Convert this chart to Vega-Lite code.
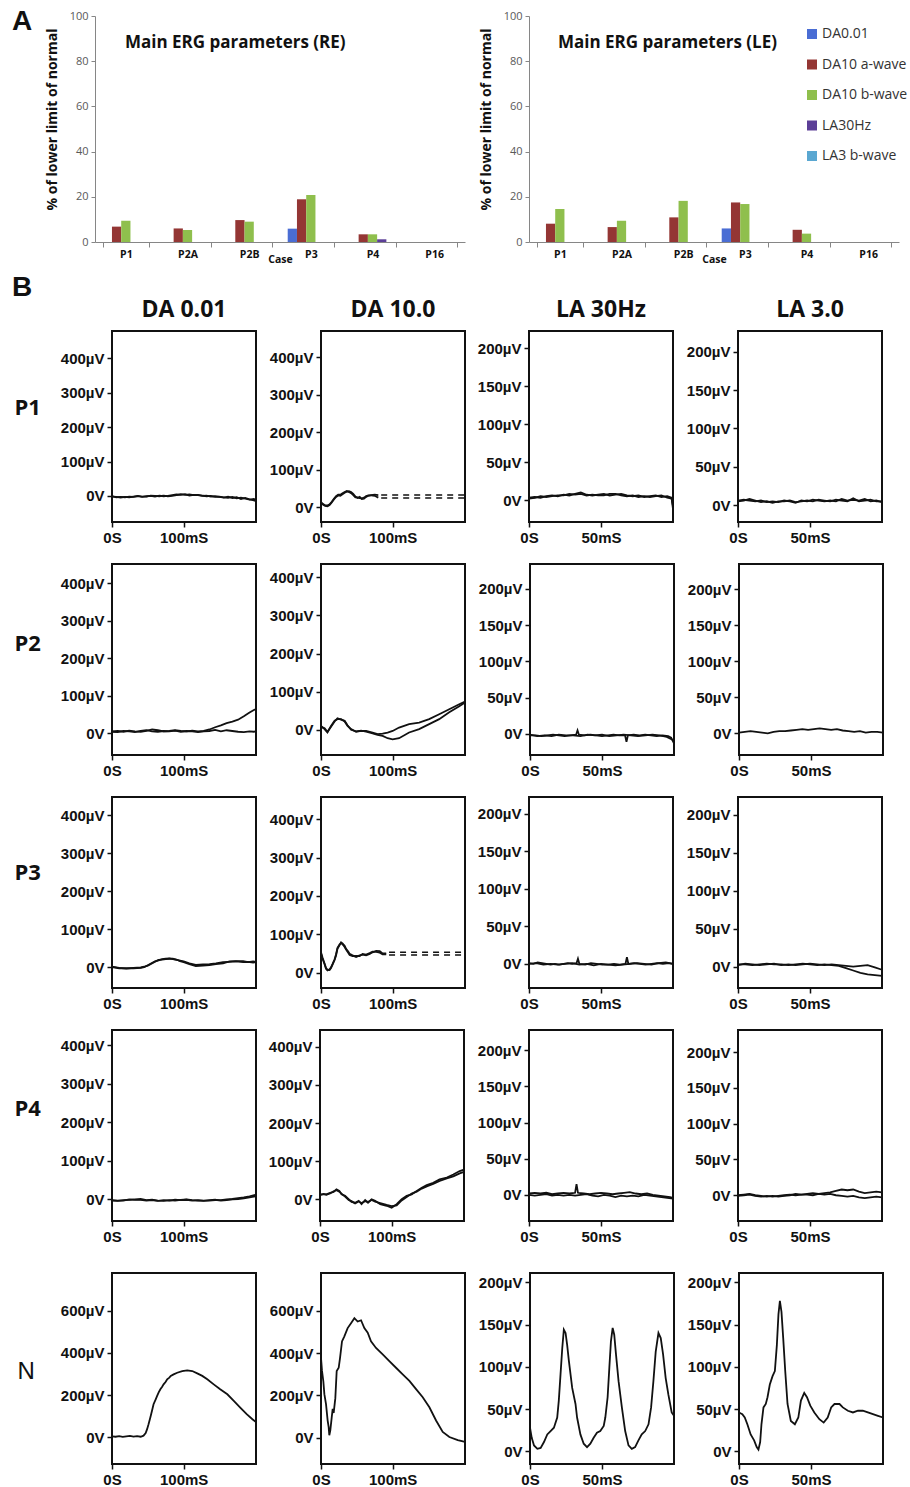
{
"$schema":"https://vega.github.io/schema/vega-lite/v6.json",
"background":"white",
"padding":{"left":12,"top":8,"right":2,"bottom":2},
"config":{
 "view":{"stroke":"#111","strokeWidth":2},
 "axis":{"domain":false,"grid":false,"tickSize":5,"tickColor":"#111","tickWidth":1.5,"labelFont":"Liberation Sans","labelFontWeight":"bold","labelFontSize":15,"labelColor":"#111","labelPadding":3,"labelFlush":false,"labelOverlap":false},
 "axisY":{"minExtent":52,"maxExtent":52},
 "line":{"color":"#111","strokeWidth":1.8},
 "title":{"font":"Open Sans","fontSize":23,"fontWeight":"bold","color":"#111","offset":9,"baseline":"alphabetic"}
},
"datasets":{
 "re":[{"c":"P1","k":"DA10 a-wave","v":6.8},{"c":"P1","k":"DA10 b-wave","v":9.4},{"c":"P2A","k":"DA10 a-wave","v":6.0},{"c":"P2A","k":"DA10 b-wave","v":5.3},{"c":"P2B","k":"DA10 a-wave","v":9.7},{"c":"P2B","k":"DA10 b-wave","v":9.0},{"c":"P3","k":"DA0.01","v":5.9},{"c":"P3","k":"DA10 a-wave","v":18.9},{"c":"P3","k":"DA10 b-wave","v":20.8},{"c":"P4","k":"DA10 a-wave","v":3.4},{"c":"P4","k":"DA10 b-wave","v":3.4},{"c":"P4","k":"LA30Hz","v":1.2}],
 "le":[{"c":"P1","k":"DA10 a-wave","v":8.1},{"c":"P1","k":"DA10 b-wave","v":14.6},{"c":"P2A","k":"DA10 a-wave","v":6.6},{"c":"P2A","k":"DA10 b-wave","v":9.4},{"c":"P2B","k":"DA10 a-wave","v":10.9},{"c":"P2B","k":"DA10 b-wave","v":18.2},{"c":"P3","k":"DA0.01","v":6.0},{"c":"P3","k":"DA10 a-wave","v":17.5},{"c":"P3","k":"DA10 b-wave","v":16.8},{"c":"P4","k":"DA10 a-wave","v":5.4},{"c":"P4","k":"DA10 b-wave","v":3.7}],
 "a1":[{"s":1,"t":0,"v":-2},{"s":1,"t":6,"v":-3},{"s":1,"t":12,"v":-5},{"s":1,"t":18,"v":-3},{"s":1,"t":24,"v":-4},{"s":1,"t":30,"v":-2},{"s":1,"t":36,"v":-1},{"s":1,"t":42,"v":-3},{"s":1,"t":48,"v":-1},{"s":1,"t":54,"v":0},{"s":1,"t":60,"v":-2},{"s":1,"t":66,"v":1},{"s":1,"t":72,"v":-1},{"s":1,"t":78,"v":0},{"s":1,"t":84,"v":2},{"s":1,"t":90,"v":4},{"s":1,"t":96,"v":3},{"s":1,"t":102,"v":5},{"s":1,"t":108,"v":1},{"s":1,"t":114,"v":3},{"s":1,"t":120,"v":2},{"s":1,"t":126,"v":0},{"s":1,"t":132,"v":1},{"s":1,"t":138,"v":-2},{"s":1,"t":144,"v":-1},{"s":1,"t":150,"v":-3},{"s":1,"t":156,"v":-5},{"s":1,"t":162,"v":-2},{"s":1,"t":168,"v":-6},{"s":1,"t":174,"v":-4},{"s":1,"t":180,"v":-9},{"s":1,"t":186,"v":-6},{"s":1,"t":192,"v":-10},{"s":1,"t":198,"v":-13},{"s":1,"t":201,"v":-15},
  {"s":2,"t":0,"v":-1},{"s":2,"t":6,"v":-4},{"s":2,"t":12,"v":-3},{"s":2,"t":18,"v":-4},{"s":2,"t":24,"v":-2},{"s":2,"t":30,"v":-3},{"s":2,"t":36,"v":0},{"s":2,"t":42,"v":-2},{"s":2,"t":48,"v":-2},{"s":2,"t":54,"v":1},{"s":2,"t":60,"v":0},{"s":2,"t":66,"v":-1},{"s":2,"t":72,"v":1},{"s":2,"t":78,"v":-1},{"s":2,"t":84,"v":0},{"s":2,"t":90,"v":2},{"s":2,"t":96,"v":5},{"s":2,"t":102,"v":3},{"s":2,"t":108,"v":4},{"s":2,"t":114,"v":2},{"s":2,"t":120,"v":3},{"s":2,"t":126,"v":1},{"s":2,"t":132,"v":-1},{"s":2,"t":138,"v":0},{"s":2,"t":144,"v":-3},{"s":2,"t":150,"v":-2},{"s":2,"t":156,"v":-4},{"s":2,"t":162,"v":-6},{"s":2,"t":168,"v":-3},{"s":2,"t":174,"v":-7},{"s":2,"t":180,"v":-5},{"s":2,"t":186,"v":-8},{"s":2,"t":192,"v":-11},{"s":2,"t":198,"v":-9},{"s":2,"t":201,"v":-12}],
 "b1":[{"s":1,"t":0,"v":13},{"s":1,"t":3,"v":6},{"s":1,"t":6,"v":3},{"s":1,"t":9,"v":2},{"s":1,"t":12,"v":5},{"s":1,"t":15,"v":12},{"s":1,"t":18,"v":20},{"s":1,"t":21,"v":27},{"s":1,"t":24,"v":31},{"s":1,"t":27,"v":30},{"s":1,"t":30,"v":34},{"s":1,"t":33,"v":38},{"s":1,"t":36,"v":41},{"s":1,"t":39,"v":42},{"s":1,"t":42,"v":40},{"s":1,"t":45,"v":35},{"s":1,"t":48,"v":28},{"s":1,"t":51,"v":24},{"s":1,"t":54,"v":27},{"s":1,"t":57,"v":21},{"s":1,"t":60,"v":22},{"s":1,"t":63,"v":27},{"s":1,"t":66,"v":30},{"s":1,"t":70,"v":32},{"s":1,"t":75,"v":33},{"s":1,"t":80,"v":32},
  {"s":2,"t":0,"v":11},{"s":2,"t":3,"v":8},{"s":2,"t":6,"v":4},{"s":2,"t":9,"v":4},{"s":2,"t":12,"v":7},{"s":2,"t":15,"v":14},{"s":2,"t":18,"v":22},{"s":2,"t":21,"v":29},{"s":2,"t":24,"v":33},{"s":2,"t":27,"v":33},{"s":2,"t":30,"v":37},{"s":2,"t":33,"v":40},{"s":2,"t":36,"v":43},{"s":2,"t":39,"v":40},{"s":2,"t":42,"v":37},{"s":2,"t":45,"v":32},{"s":2,"t":48,"v":26},{"s":2,"t":51,"v":26},{"s":2,"t":54,"v":24},{"s":2,"t":57,"v":23},{"s":2,"t":60,"v":25},{"s":2,"t":63,"v":29},{"s":2,"t":66,"v":31},{"s":2,"t":70,"v":31},{"s":2,"t":75,"v":30},{"s":2,"t":80,"v":25}],
 "b1d":[{"s":1,"t":84,"v":32},{"s":1,"t":201,"v":32},{"s":2,"t":84,"v":24},{"s":2,"t":201,"v":24}],
 "c1":[{"s":1,"t":0,"v":3},{"s":1,"t":4,"v":4},{"s":1,"t":8,"v":3},{"s":1,"t":12,"v":5},{"s":1,"t":16,"v":6},{"s":1,"t":20,"v":5},{"s":1,"t":24,"v":7},{"s":1,"t":28,"v":6},{"s":1,"t":32,"v":8},{"s":1,"t":36,"v":10},{"s":1,"t":40,"v":7},{"s":1,"t":44,"v":6},{"s":1,"t":48,"v":7},{"s":1,"t":52,"v":8},{"s":1,"t":56,"v":6},{"s":1,"t":60,"v":7},{"s":1,"t":64,"v":8},{"s":1,"t":68,"v":6},{"s":1,"t":72,"v":5},{"s":1,"t":76,"v":6},{"s":1,"t":80,"v":4},{"s":1,"t":84,"v":5},{"s":1,"t":88,"v":6},{"s":1,"t":92,"v":4},{"s":1,"t":96,"v":5},{"s":1,"t":99,"v":3},{"s":1,"t":100,"v":-12},
  {"s":2,"t":0,"v":2},{"s":2,"t":4,"v":3},{"s":2,"t":8,"v":5},{"s":2,"t":12,"v":4},{"s":2,"t":16,"v":5},{"s":2,"t":20,"v":6},{"s":2,"t":24,"v":6},{"s":2,"t":28,"v":8},{"s":2,"t":32,"v":7},{"s":2,"t":36,"v":8},{"s":2,"t":40,"v":6},{"s":2,"t":44,"v":7},{"s":2,"t":48,"v":6},{"s":2,"t":52,"v":6},{"s":2,"t":56,"v":8},{"s":2,"t":60,"v":8},{"s":2,"t":64,"v":6},{"s":2,"t":68,"v":5},{"s":2,"t":72,"v":6},{"s":2,"t":76,"v":4},{"s":2,"t":80,"v":5},{"s":2,"t":84,"v":4},{"s":2,"t":88,"v":5},{"s":2,"t":92,"v":6},{"s":2,"t":96,"v":3},{"s":2,"t":99,"v":2},{"s":2,"t":100,"v":-8}],
 "d1":[{"s":1,"t":0,"v":6},{"s":1,"t":4,"v":7},{"s":1,"t":8,"v":6},{"s":1,"t":12,"v":5},{"s":1,"t":16,"v":6},{"s":1,"t":20,"v":4},{"s":1,"t":24,"v":5},{"s":1,"t":28,"v":4},{"s":1,"t":32,"v":6},{"s":1,"t":36,"v":5},{"s":1,"t":40,"v":3},{"s":1,"t":44,"v":6},{"s":1,"t":48,"v":5},{"s":1,"t":52,"v":7},{"s":1,"t":56,"v":6},{"s":1,"t":60,"v":5},{"s":1,"t":64,"v":6},{"s":1,"t":68,"v":5},{"s":1,"t":72,"v":8},{"s":1,"t":76,"v":6},{"s":1,"t":80,"v":7},{"s":1,"t":84,"v":6},{"s":1,"t":88,"v":8},{"s":1,"t":92,"v":5},{"s":1,"t":96,"v":6},{"s":1,"t":100,"v":4},
  {"s":2,"t":0,"v":5},{"s":2,"t":4,"v":6},{"s":2,"t":8,"v":8},{"s":2,"t":12,"v":6},{"s":2,"t":16,"v":4},{"s":2,"t":20,"v":5},{"s":2,"t":24,"v":3},{"s":2,"t":28,"v":5},{"s":2,"t":32,"v":5},{"s":2,"t":36,"v":6},{"s":2,"t":40,"v":4},{"s":2,"t":44,"v":5},{"s":2,"t":48,"v":6},{"s":2,"t":52,"v":5},{"s":2,"t":56,"v":7},{"s":2,"t":60,"v":6},{"s":2,"t":64,"v":5},{"s":2,"t":68,"v":7},{"s":2,"t":72,"v":6},{"s":2,"t":76,"v":5},{"s":2,"t":80,"v":9},{"s":2,"t":84,"v":5},{"s":2,"t":88,"v":6},{"s":2,"t":92,"v":7},{"s":2,"t":96,"v":5},{"s":2,"t":100,"v":5}],
 "a2":[{"s":1,"t":0,"v":5},{"s":1,"t":8,"v":6},{"s":1,"t":16,"v":4},{"s":1,"t":24,"v":7},{"s":1,"t":32,"v":5},{"s":1,"t":40,"v":4},{"s":1,"t":48,"v":6},{"s":1,"t":56,"v":10},{"s":1,"t":64,"v":8},{"s":1,"t":72,"v":5},{"s":1,"t":80,"v":6},{"s":1,"t":88,"v":8},{"s":1,"t":96,"v":6},{"s":1,"t":104,"v":5},{"s":1,"t":112,"v":7},{"s":1,"t":120,"v":5},{"s":1,"t":128,"v":6},{"s":1,"t":136,"v":10},{"s":1,"t":144,"v":16},{"s":1,"t":152,"v":21},{"s":1,"t":160,"v":27},{"s":1,"t":168,"v":31},{"s":1,"t":176,"v":36},{"s":1,"t":184,"v":45},{"s":1,"t":192,"v":55},{"s":1,"t":198,"v":62},{"s":1,"t":201,"v":64},
  {"s":2,"t":0,"v":4},{"s":2,"t":8,"v":3},{"s":2,"t":16,"v":6},{"s":2,"t":24,"v":5},{"s":2,"t":32,"v":3},{"s":2,"t":40,"v":6},{"s":2,"t":48,"v":8},{"s":2,"t":56,"v":5},{"s":2,"t":64,"v":4},{"s":2,"t":72,"v":6},{"s":2,"t":80,"v":5},{"s":2,"t":88,"v":7},{"s":2,"t":96,"v":4},{"s":2,"t":104,"v":6},{"s":2,"t":112,"v":5},{"s":2,"t":120,"v":3},{"s":2,"t":128,"v":5},{"s":2,"t":136,"v":6},{"s":2,"t":144,"v":9},{"s":2,"t":152,"v":5},{"s":2,"t":160,"v":8},{"s":2,"t":168,"v":6},{"s":2,"t":176,"v":4},{"s":2,"t":184,"v":3},{"s":2,"t":192,"v":5},{"s":2,"t":198,"v":4},{"s":2,"t":201,"v":5}],
 "b2":[{"s":1,"t":0,"v":10},{"s":1,"t":5,"v":2},{"s":1,"t":9,"v":-7},{"s":1,"t":14,"v":10},{"s":1,"t":19,"v":24},{"s":1,"t":23,"v":28},{"s":1,"t":28,"v":28},{"s":1,"t":33,"v":22},{"s":1,"t":37,"v":10},{"s":1,"t":42,"v":2},{"s":1,"t":49,"v":-5},{"s":1,"t":56,"v":-3},{"s":1,"t":63,"v":-3},{"s":1,"t":72,"v":-7},{"s":1,"t":79,"v":-11},{"s":1,"t":86,"v":-10},{"s":1,"t":93,"v":-7},{"s":1,"t":100,"v":-3},{"s":1,"t":109,"v":6},{"s":1,"t":123,"v":15},{"s":1,"t":137,"v":19},{"s":1,"t":151,"v":28},{"s":1,"t":165,"v":41},{"s":1,"t":179,"v":54},{"s":1,"t":193,"v":67},{"s":1,"t":201,"v":74},
  {"s":2,"t":0,"v":8},{"s":2,"t":5,"v":4},{"s":2,"t":9,"v":-5},{"s":2,"t":14,"v":8},{"s":2,"t":19,"v":22},{"s":2,"t":23,"v":30},{"s":2,"t":28,"v":27},{"s":2,"t":33,"v":24},{"s":2,"t":37,"v":12},{"s":2,"t":42,"v":0},{"s":2,"t":49,"v":-4},{"s":2,"t":56,"v":-2},{"s":2,"t":63,"v":-5},{"s":2,"t":72,"v":-9},{"s":2,"t":79,"v":-13},{"s":2,"t":86,"v":-16},{"s":2,"t":93,"v":-22},{"s":2,"t":100,"v":-25},{"s":2,"t":109,"v":-22},{"s":2,"t":123,"v":-7},{"s":2,"t":137,"v":2},{"s":2,"t":151,"v":15},{"s":2,"t":165,"v":28},{"s":2,"t":179,"v":46},{"s":2,"t":193,"v":62},{"s":2,"t":201,"v":72}],
 "c2":[{"s":1,"t":0,"v":-2},{"s":1,"t":4,"v":-2},{"s":1,"t":8,"v":-3},{"s":1,"t":12,"v":-2},{"s":1,"t":16,"v":-1},{"s":1,"t":20,"v":-2},{"s":1,"t":24,"v":-3},{"s":1,"t":28,"v":-2},{"s":1,"t":32,"v":-1},{"s":1,"t":33,"v":5},{"s":1,"t":34,"v":-1},{"s":1,"t":38,"v":-2},{"s":1,"t":42,"v":-1},{"s":1,"t":46,"v":-2},{"s":1,"t":50,"v":-3},{"s":1,"t":54,"v":-2},{"s":1,"t":58,"v":-1},{"s":1,"t":62,"v":-2},{"s":1,"t":66,"v":-2},{"s":1,"t":67,"v":-11},{"s":1,"t":68,"v":-2},{"s":1,"t":72,"v":-1},{"s":1,"t":76,"v":-2},{"s":1,"t":80,"v":-1},{"s":1,"t":84,"v":-2},{"s":1,"t":88,"v":-3},{"s":1,"t":92,"v":-2},{"s":1,"t":96,"v":-3},{"s":1,"t":98,"v":-5},{"s":1,"t":100,"v":-13},
  {"s":2,"t":0,"v":-1},{"s":2,"t":5,"v":-3},{"s":2,"t":10,"v":-2},{"s":2,"t":15,"v":-3},{"s":2,"t":20,"v":-1},{"s":2,"t":25,"v":-2},{"s":2,"t":30,"v":-2},{"s":2,"t":35,"v":-3},{"s":2,"t":40,"v":-1},{"s":2,"t":45,"v":-2},{"s":2,"t":50,"v":-1},{"s":2,"t":55,"v":-3},{"s":2,"t":60,"v":-2},{"s":2,"t":65,"v":-1},{"s":2,"t":70,"v":-2},{"s":2,"t":75,"v":-3},{"s":2,"t":80,"v":-2},{"s":2,"t":85,"v":-1},{"s":2,"t":90,"v":-2},{"s":2,"t":95,"v":-4},{"s":2,"t":100,"v":-9}],
 "d2":[{"s":1,"t":0,"v":1},{"s":1,"t":4,"v":2},{"s":1,"t":8,"v":3},{"s":1,"t":12,"v":2},{"s":1,"t":16,"v":1},{"s":1,"t":20,"v":0},{"s":1,"t":24,"v":2},{"s":1,"t":28,"v":3},{"s":1,"t":32,"v":3},{"s":1,"t":36,"v":4},{"s":1,"t":40,"v":5},{"s":1,"t":44,"v":6},{"s":1,"t":48,"v":5},{"s":1,"t":52,"v":6},{"s":1,"t":56,"v":7},{"s":1,"t":60,"v":6},{"s":1,"t":64,"v":5},{"s":1,"t":68,"v":6},{"s":1,"t":72,"v":4},{"s":1,"t":76,"v":3},{"s":1,"t":80,"v":2},{"s":1,"t":84,"v":3},{"s":1,"t":88,"v":1},{"s":1,"t":92,"v":2},{"s":1,"t":96,"v":2},{"s":1,"t":100,"v":1}],
 "a3":[{"s":1,"t":0,"v":0},{"s":1,"t":10,"v":-3},{"s":1,"t":20,"v":-3},{"s":1,"t":30,"v":-3},{"s":1,"t":40,"v":-2},{"s":1,"t":45,"v":0},{"s":1,"t":50,"v":5},{"s":1,"t":55,"v":10},{"s":1,"t":60,"v":15},{"s":1,"t":65,"v":18},{"s":1,"t":70,"v":21},{"s":1,"t":75,"v":22},{"s":1,"t":80,"v":23},{"s":1,"t":85,"v":21},{"s":1,"t":90,"v":19},{"s":1,"t":95,"v":17},{"s":1,"t":100,"v":15},{"s":1,"t":108,"v":10},{"s":1,"t":117,"v":6},{"s":1,"t":127,"v":7},{"s":1,"t":136,"v":8},{"s":1,"t":145,"v":10},{"s":1,"t":155,"v":13},{"s":1,"t":164,"v":14},{"s":1,"t":173,"v":15},{"s":1,"t":183,"v":13},{"s":1,"t":190,"v":14},{"s":1,"t":197,"v":12},{"s":1,"t":201,"v":13},
  {"s":2,"t":0,"v":1},{"s":2,"t":10,"v":-2},{"s":2,"t":20,"v":-4},{"s":2,"t":30,"v":-2},{"s":2,"t":40,"v":-1},{"s":2,"t":45,"v":1},{"s":2,"t":50,"v":4},{"s":2,"t":55,"v":9},{"s":2,"t":60,"v":14},{"s":2,"t":65,"v":19},{"s":2,"t":70,"v":20},{"s":2,"t":75,"v":21},{"s":2,"t":80,"v":22},{"s":2,"t":85,"v":22},{"s":2,"t":90,"v":20},{"s":2,"t":95,"v":16},{"s":2,"t":100,"v":13},{"s":2,"t":108,"v":8},{"s":2,"t":117,"v":3},{"s":2,"t":127,"v":4},{"s":2,"t":136,"v":5},{"s":2,"t":145,"v":8},{"s":2,"t":155,"v":10},{"s":2,"t":164,"v":15},{"s":2,"t":173,"v":16},{"s":2,"t":183,"v":16},{"s":2,"t":190,"v":13},{"s":2,"t":197,"v":15},{"s":2,"t":201,"v":14}],
 "b3":[{"s":1,"t":0,"v":53},{"s":1,"t":2,"v":40},{"s":1,"t":5,"v":24},{"s":1,"t":7,"v":12},{"s":1,"t":9,"v":8},{"s":1,"t":12,"v":7},{"s":1,"t":14,"v":12},{"s":1,"t":16,"v":20},{"s":1,"t":19,"v":33},{"s":1,"t":21,"v":45},{"s":1,"t":23,"v":62},{"s":1,"t":26,"v":72},{"s":1,"t":28,"v":79},{"s":1,"t":30,"v":76},{"s":1,"t":33,"v":70},{"s":1,"t":35,"v":62},{"s":1,"t":38,"v":55},{"s":1,"t":40,"v":49},{"s":1,"t":44,"v":45},{"s":1,"t":49,"v":41},{"s":1,"t":54,"v":45},{"s":1,"t":58,"v":47},{"s":1,"t":63,"v":45},{"s":1,"t":68,"v":49},{"s":1,"t":72,"v":53},{"s":1,"t":77,"v":57},{"s":1,"t":82,"v":56},{"s":1,"t":86,"v":50},{"s":1,"t":91,"v":50},
  {"s":2,"t":0,"v":50},{"s":2,"t":2,"v":37},{"s":2,"t":5,"v":22},{"s":2,"t":7,"v":10},{"s":2,"t":9,"v":6},{"s":2,"t":12,"v":9},{"s":2,"t":14,"v":14},{"s":2,"t":16,"v":22},{"s":2,"t":19,"v":35},{"s":2,"t":21,"v":48},{"s":2,"t":23,"v":65},{"s":2,"t":26,"v":74},{"s":2,"t":28,"v":77},{"s":2,"t":30,"v":74},{"s":2,"t":33,"v":67},{"s":2,"t":35,"v":60},{"s":2,"t":38,"v":52},{"s":2,"t":40,"v":46},{"s":2,"t":44,"v":43},{"s":2,"t":49,"v":44},{"s":2,"t":54,"v":43},{"s":2,"t":58,"v":49},{"s":2,"t":63,"v":47},{"s":2,"t":68,"v":51},{"s":2,"t":72,"v":55},{"s":2,"t":77,"v":54},{"s":2,"t":82,"v":52},{"s":2,"t":86,"v":48},{"s":2,"t":91,"v":48}],
 "b3d":[{"s":1,"t":95,"v":53},{"s":1,"t":201,"v":53},{"s":2,"t":95,"v":46},{"s":2,"t":201,"v":46}],
 "c3":[{"s":1,"t":0,"v":1},{"s":1,"t":3,"v":0},{"s":1,"t":6,"v":2},{"s":1,"t":9,"v":1},{"s":1,"t":12,"v":0},{"s":1,"t":15,"v":-1},{"s":1,"t":18,"v":0},{"s":1,"t":21,"v":-1},{"s":1,"t":24,"v":0},{"s":1,"t":27,"v":1},{"s":1,"t":30,"v":0},{"s":1,"t":33,"v":1},{"s":1,"t":34,"v":7},{"s":1,"t":35,"v":0},{"s":1,"t":39,"v":-1},{"s":1,"t":43,"v":1},{"s":1,"t":47,"v":0},{"s":1,"t":51,"v":-1},{"s":1,"t":55,"v":-1},{"s":1,"t":59,"v":0},{"s":1,"t":63,"v":-1},{"s":1,"t":67,"v":0},{"s":1,"t":68,"v":9},{"s":1,"t":69,"v":0},{"s":1,"t":73,"v":1},{"s":1,"t":77,"v":0},{"s":1,"t":81,"v":-1},{"s":1,"t":85,"v":0},{"s":1,"t":89,"v":1},{"s":1,"t":93,"v":0},{"s":1,"t":97,"v":1},{"s":1,"t":100,"v":0},
  {"s":2,"t":0,"v":0},{"s":2,"t":5,"v":1},{"s":2,"t":10,"v":-1},{"s":2,"t":15,"v":0},{"s":2,"t":20,"v":-1},{"s":2,"t":25,"v":0},{"s":2,"t":30,"v":1},{"s":2,"t":35,"v":-1},{"s":2,"t":40,"v":0},{"s":2,"t":45,"v":-2},{"s":2,"t":50,"v":0},{"s":2,"t":55,"v":-1},{"s":2,"t":60,"v":-2},{"s":2,"t":65,"v":-1},{"s":2,"t":70,"v":0},{"s":2,"t":75,"v":1},{"s":2,"t":80,"v":0},{"s":2,"t":85,"v":-1},{"s":2,"t":90,"v":1},{"s":2,"t":95,"v":2},{"s":2,"t":100,"v":0}],
 "d3":[{"s":1,"t":0,"v":3},{"s":1,"t":5,"v":3},{"s":1,"t":10,"v":2},{"s":1,"t":15,"v":3},{"s":1,"t":20,"v":4},{"s":1,"t":25,"v":3},{"s":1,"t":30,"v":3},{"s":1,"t":35,"v":2},{"s":1,"t":40,"v":3},{"s":1,"t":45,"v":4},{"s":1,"t":50,"v":3},{"s":1,"t":55,"v":2},{"s":1,"t":60,"v":3},{"s":1,"t":65,"v":2},{"s":1,"t":70,"v":1},{"s":1,"t":75,"v":-2},{"s":1,"t":80,"v":-5},{"s":1,"t":85,"v":-8},{"s":1,"t":90,"v":-10},{"s":1,"t":95,"v":-11},{"s":1,"t":100,"v":-12},
  {"s":2,"t":0,"v":2},{"s":2,"t":5,"v":4},{"s":2,"t":10,"v":3},{"s":2,"t":15,"v":2},{"s":2,"t":20,"v":3},{"s":2,"t":25,"v":4},{"s":2,"t":30,"v":2},{"s":2,"t":35,"v":3},{"s":2,"t":40,"v":2},{"s":2,"t":45,"v":3},{"s":2,"t":50,"v":4},{"s":2,"t":55,"v":3},{"s":2,"t":60,"v":2},{"s":2,"t":65,"v":3},{"s":2,"t":70,"v":2},{"s":2,"t":75,"v":1},{"s":2,"t":80,"v":0},{"s":2,"t":85,"v":1},{"s":2,"t":90,"v":2},{"s":2,"t":95,"v":-1},{"s":2,"t":100,"v":-4}],
 "a4":[{"s":1,"t":0,"v":-3},{"s":1,"t":8,"v":-4},{"s":1,"t":16,"v":-2},{"s":1,"t":24,"v":-1},{"s":1,"t":32,"v":0},{"s":1,"t":40,"v":1},{"s":1,"t":48,"v":-2},{"s":1,"t":56,"v":-1},{"s":1,"t":64,"v":-3},{"s":1,"t":72,"v":-4},{"s":1,"t":80,"v":-2},{"s":1,"t":88,"v":-3},{"s":1,"t":96,"v":-1},{"s":1,"t":104,"v":0},{"s":1,"t":112,"v":-2},{"s":1,"t":120,"v":-3},{"s":1,"t":128,"v":-4},{"s":1,"t":136,"v":-2},{"s":1,"t":144,"v":-1},{"s":1,"t":152,"v":-3},{"s":1,"t":160,"v":-2},{"s":1,"t":168,"v":0},{"s":1,"t":176,"v":1},{"s":1,"t":184,"v":3},{"s":1,"t":192,"v":5},{"s":1,"t":200,"v":8},
  {"s":2,"t":0,"v":-2},{"s":2,"t":8,"v":-3},{"s":2,"t":16,"v":-3},{"s":2,"t":24,"v":0},{"s":2,"t":32,"v":-1},{"s":2,"t":40,"v":-1},{"s":2,"t":48,"v":-3},{"s":2,"t":56,"v":-2},{"s":2,"t":64,"v":-4},{"s":2,"t":72,"v":-2},{"s":2,"t":80,"v":-3},{"s":2,"t":88,"v":-1},{"s":2,"t":96,"v":-2},{"s":2,"t":104,"v":-1},{"s":2,"t":112,"v":-3},{"s":2,"t":120,"v":-2},{"s":2,"t":128,"v":-3},{"s":2,"t":136,"v":-3},{"s":2,"t":144,"v":-2},{"s":2,"t":152,"v":-2},{"s":2,"t":160,"v":0},{"s":2,"t":168,"v":1},{"s":2,"t":176,"v":3},{"s":2,"t":184,"v":5},{"s":2,"t":192,"v":8},{"s":2,"t":200,"v":12}],
 "b4":[{"s":1,"t":0,"v":13},{"s":1,"t":5,"v":13},{"s":1,"t":9,"v":13},{"s":1,"t":14,"v":17},{"s":1,"t":19,"v":19},{"s":1,"t":23,"v":26},{"s":1,"t":27,"v":22},{"s":1,"t":30,"v":13},{"s":1,"t":35,"v":9},{"s":1,"t":40,"v":0},{"s":1,"t":44,"v":-7},{"s":1,"t":49,"v":-9},{"s":1,"t":54,"v":-4},{"s":1,"t":58,"v":-13},{"s":1,"t":63,"v":-2},{"s":1,"t":67,"v":-9},{"s":1,"t":72,"v":0},{"s":1,"t":77,"v":-4},{"s":1,"t":84,"v":-13},{"s":1,"t":93,"v":-17},{"s":1,"t":100,"v":-22},{"s":1,"t":107,"v":-13},{"s":1,"t":114,"v":0},{"s":1,"t":121,"v":9},{"s":1,"t":128,"v":13},{"s":1,"t":135,"v":22},{"s":1,"t":142,"v":30},{"s":1,"t":149,"v":37},{"s":1,"t":158,"v":43},{"s":1,"t":167,"v":52},{"s":1,"t":177,"v":57},{"s":1,"t":186,"v":65},{"s":1,"t":195,"v":74},{"s":1,"t":201,"v":78},
  {"s":2,"t":0,"v":11},{"s":2,"t":5,"v":14},{"s":2,"t":9,"v":12},{"s":2,"t":14,"v":15},{"s":2,"t":19,"v":21},{"s":2,"t":23,"v":24},{"s":2,"t":27,"v":20},{"s":2,"t":30,"v":15},{"s":2,"t":35,"v":7},{"s":2,"t":40,"v":-2},{"s":2,"t":44,"v":-5},{"s":2,"t":49,"v":-11},{"s":2,"t":54,"v":-6},{"s":2,"t":58,"v":-10},{"s":2,"t":63,"v":-5},{"s":2,"t":67,"v":-7},{"s":2,"t":72,"v":-2},{"s":2,"t":77,"v":-6},{"s":2,"t":84,"v":-10},{"s":2,"t":93,"v":-15},{"s":2,"t":100,"v":-18},{"s":2,"t":107,"v":-16},{"s":2,"t":114,"v":-3},{"s":2,"t":121,"v":6},{"s":2,"t":128,"v":15},{"s":2,"t":135,"v":20},{"s":2,"t":142,"v":28},{"s":2,"t":149,"v":34},{"s":2,"t":158,"v":40},{"s":2,"t":167,"v":48},{"s":2,"t":177,"v":55},{"s":2,"t":186,"v":60},{"s":2,"t":195,"v":68},{"s":2,"t":201,"v":72}],
 "c4":[{"s":1,"t":0,"v":2},{"s":1,"t":4,"v":3},{"s":1,"t":8,"v":2},{"s":1,"t":12,"v":3},{"s":1,"t":16,"v":1},{"s":1,"t":20,"v":2},{"s":1,"t":24,"v":3},{"s":1,"t":28,"v":2},{"s":1,"t":32,"v":3},{"s":1,"t":33,"v":15},{"s":1,"t":34,"v":3},{"s":1,"t":38,"v":2},{"s":1,"t":42,"v":1},{"s":1,"t":46,"v":2},{"s":1,"t":50,"v":3},{"s":1,"t":54,"v":2},{"s":1,"t":58,"v":1},{"s":1,"t":62,"v":2},{"s":1,"t":66,"v":3},{"s":1,"t":70,"v":4},{"s":1,"t":74,"v":2},{"s":1,"t":78,"v":1},{"s":1,"t":82,"v":2},{"s":1,"t":86,"v":0},{"s":1,"t":90,"v":-1},{"s":1,"t":94,"v":-2},{"s":1,"t":98,"v":-3},{"s":1,"t":100,"v":-4},
  {"s":2,"t":0,"v":0},{"s":2,"t":4,"v":-1},{"s":2,"t":8,"v":0},{"s":2,"t":12,"v":1},{"s":2,"t":16,"v":-1},{"s":2,"t":20,"v":0},{"s":2,"t":24,"v":-1},{"s":2,"t":28,"v":0},{"s":2,"t":32,"v":-1},{"s":2,"t":36,"v":0},{"s":2,"t":40,"v":1},{"s":2,"t":44,"v":-1},{"s":2,"t":48,"v":-2},{"s":2,"t":52,"v":0},{"s":2,"t":56,"v":-1},{"s":2,"t":60,"v":-3},{"s":2,"t":64,"v":-1},{"s":2,"t":68,"v":-2},{"s":2,"t":72,"v":-1},{"s":2,"t":76,"v":-2},{"s":2,"t":80,"v":0},{"s":2,"t":84,"v":-1},{"s":2,"t":88,"v":-2},{"s":2,"t":92,"v":-3},{"s":2,"t":96,"v":-4},{"s":2,"t":100,"v":-5}],
 "d4":[{"s":1,"t":0,"v":0},{"s":1,"t":4,"v":1},{"s":1,"t":8,"v":2},{"s":1,"t":12,"v":0},{"s":1,"t":16,"v":-1},{"s":1,"t":20,"v":-2},{"s":1,"t":24,"v":-1},{"s":1,"t":28,"v":-2},{"s":1,"t":32,"v":-1},{"s":1,"t":36,"v":0},{"s":1,"t":40,"v":2},{"s":1,"t":44,"v":1},{"s":1,"t":48,"v":2},{"s":1,"t":52,"v":3},{"s":1,"t":56,"v":2},{"s":1,"t":60,"v":3},{"s":1,"t":64,"v":4},{"s":1,"t":68,"v":6},{"s":1,"t":72,"v":8},{"s":1,"t":76,"v":7},{"s":1,"t":80,"v":8},{"s":1,"t":84,"v":5},{"s":1,"t":88,"v":3},{"s":1,"t":92,"v":4},{"s":1,"t":96,"v":5},{"s":1,"t":100,"v":4},
  {"s":2,"t":0,"v":-1},{"s":2,"t":4,"v":0},{"s":2,"t":8,"v":1},{"s":2,"t":12,"v":-1},{"s":2,"t":16,"v":-2},{"s":2,"t":20,"v":-1},{"s":2,"t":24,"v":-2},{"s":2,"t":28,"v":-1},{"s":2,"t":32,"v":0},{"s":2,"t":36,"v":1},{"s":2,"t":40,"v":0},{"s":2,"t":44,"v":1},{"s":2,"t":48,"v":1},{"s":2,"t":52,"v":0},{"s":2,"t":56,"v":2},{"s":2,"t":60,"v":1},{"s":2,"t":64,"v":2},{"s":2,"t":68,"v":0},{"s":2,"t":72,"v":-1},{"s":2,"t":76,"v":-2},{"s":2,"t":80,"v":-1},{"s":2,"t":84,"v":-3},{"s":2,"t":88,"v":-4},{"s":2,"t":92,"v":-3},{"s":2,"t":96,"v":-2},{"s":2,"t":100,"v":-3}],
 "a5":[{"s":1,"t":0,"v":5},{"s":1,"t":5,"v":3},{"s":1,"t":10,"v":6},{"s":1,"t":15,"v":2},{"s":1,"t":20,"v":5},{"s":1,"t":25,"v":7},{"s":1,"t":30,"v":4},{"s":1,"t":35,"v":6},{"s":1,"t":40,"v":3},{"s":1,"t":44,"v":8},{"s":1,"t":47,"v":20},{"s":1,"t":49,"v":39},{"s":1,"t":51,"v":62},{"s":1,"t":53.5,"v":94},{"s":1,"t":56,"v":128},{"s":1,"t":58,"v":157},{"s":1,"t":61,"v":180},{"s":1,"t":63,"v":196},{"s":1,"t":65,"v":212},{"s":1,"t":67.5,"v":228},{"s":1,"t":70,"v":240},{"s":1,"t":72,"v":251},{"s":1,"t":75,"v":263},{"s":1,"t":77,"v":275},{"s":1,"t":80,"v":283},{"s":1,"t":82,"v":291},{"s":1,"t":86,"v":298},{"s":1,"t":91,"v":306},{"s":1,"t":98,"v":314},{"s":1,"t":105,"v":317},{"s":1,"t":112,"v":314},{"s":1,"t":119,"v":303},{"s":1,"t":126,"v":291},{"s":1,"t":133,"v":275},{"s":1,"t":142,"v":251},{"s":1,"t":151,"v":228},{"s":1,"t":161,"v":204},{"s":1,"t":170,"v":173},{"s":1,"t":179,"v":141},{"s":1,"t":188,"v":110},{"s":1,"t":196,"v":86},{"s":1,"t":201,"v":72}],
 "b5":[{"s":1,"t":0,"v":378},{"s":1,"t":1.4,"v":316},{"s":1,"t":3.3,"v":266},{"s":1,"t":4.7,"v":206},{"s":1,"t":7,"v":159},{"s":1,"t":9.3,"v":81},{"s":1,"t":10.7,"v":50},{"s":1,"t":11.6,"v":11},{"s":1,"t":13,"v":34},{"s":1,"t":14.9,"v":94},{"s":1,"t":16.3,"v":136},{"s":1,"t":17.7,"v":117},{"s":1,"t":20,"v":187},{"s":1,"t":21.9,"v":316},{"s":1,"t":24.7,"v":331},{"s":1,"t":26.5,"v":375},{"s":1,"t":29.3,"v":456},{"s":1,"t":32.6,"v":480},{"s":1,"t":37.2,"v":519},{"s":1,"t":41.9,"v":542},{"s":1,"t":46.6,"v":566},{"s":1,"t":51.2,"v":550},{"s":1,"t":55.9,"v":556},{"s":1,"t":60.5,"v":519},{"s":1,"t":65.2,"v":497},{"s":1,"t":69.8,"v":456},{"s":1,"t":76.8,"v":425},{"s":1,"t":86.1,"v":394},{"s":1,"t":95.4,"v":362},{"s":1,"t":104.7,"v":331},{"s":1,"t":114,"v":300},{"s":1,"t":123.4,"v":269},{"s":1,"t":132.7,"v":230},{"s":1,"t":142,"v":191},{"s":1,"t":151.3,"v":144},{"s":1,"t":160.6,"v":81},{"s":1,"t":169.9,"v":27},{"s":1,"t":179.2,"v":3},{"s":1,"t":190.9,"v":-12},{"s":1,"t":201,"v":-20}],
 "c5":[{"s":1,"t":0,"v":28},{"s":1,"t":1.2,"v":16},{"s":1,"t":2.8,"v":7},{"s":1,"t":5.1,"v":3},{"s":1,"t":7.4,"v":4},{"s":1,"t":9.7,"v":11},{"s":1,"t":12,"v":20},{"s":1,"t":14.3,"v":24},{"s":1,"t":16.6,"v":28},{"s":1,"t":18.9,"v":40},{"s":1,"t":20,"v":60},{"s":1,"t":21.2,"v":91},{"s":1,"t":22.4,"v":122},{"s":1,"t":23.5,"v":144},{"s":1,"t":24.7,"v":140},{"s":1,"t":25.8,"v":126},{"s":1,"t":27,"v":107},{"s":1,"t":29.3,"v":75},{"s":1,"t":31.6,"v":56},{"s":1,"t":32.7,"v":40},{"s":1,"t":35,"v":20},{"s":1,"t":37.3,"v":9},{"s":1,"t":39.6,"v":5},{"s":1,"t":41.9,"v":9},{"s":1,"t":44.2,"v":16},{"s":1,"t":46.5,"v":22},{"s":1,"t":48.8,"v":24},{"s":1,"t":51.2,"v":30},{"s":1,"t":52.3,"v":40},{"s":1,"t":53.9,"v":64},{"s":1,"t":55.1,"v":99},{"s":1,"t":56.2,"v":130},{"s":1,"t":57.4,"v":146},{"s":1,"t":58.5,"v":138},{"s":1,"t":59.7,"v":115},{"s":1,"t":61.5,"v":83},{"s":1,"t":63.8,"v":52},{"s":1,"t":66.1,"v":24},{"s":1,"t":68.4,"v":7},{"s":1,"t":70.7,"v":3},{"s":1,"t":73,"v":5},{"s":1,"t":75.3,"v":13},{"s":1,"t":77.6,"v":20},{"s":1,"t":80,"v":24},{"s":1,"t":82.3,"v":32},{"s":1,"t":84.1,"v":52},{"s":1,"t":85.7,"v":83},{"s":1,"t":87.3,"v":118},{"s":1,"t":89.2,"v":140},{"s":1,"t":90.8,"v":134},{"s":1,"t":92.4,"v":115},{"s":1,"t":94.2,"v":87},{"s":1,"t":96.1,"v":67},{"s":1,"t":98.4,"v":46},{"s":1,"t":100,"v":42}],
 "d5":[{"s":1,"t":0,"v":46},{"s":1,"t":2.3,"v":44},{"s":1,"t":4,"v":40},{"s":1,"t":5.8,"v":32},{"s":1,"t":8.1,"v":20},{"s":1,"t":10.5,"v":13},{"s":1,"t":12.3,"v":5},{"s":1,"t":13.5,"v":2},{"s":1,"t":14.7,"v":11},{"s":1,"t":15.6,"v":32},{"s":1,"t":17,"v":52},{"s":1,"t":18.6,"v":56},{"s":1,"t":19.8,"v":64},{"s":1,"t":21.4,"v":79},{"s":1,"t":23.3,"v":89},{"s":1,"t":24.9,"v":95},{"s":1,"t":26.3,"v":126},{"s":1,"t":27.4,"v":162},{"s":1,"t":28.4,"v":178},{"s":1,"t":29.5,"v":165},{"s":1,"t":30.7,"v":134},{"s":1,"t":32.1,"v":95},{"s":1,"t":33.7,"v":56},{"s":1,"t":36,"v":36},{"s":1,"t":38.8,"v":32},{"s":1,"t":41.2,"v":40},{"s":1,"t":43,"v":60},{"s":1,"t":45.3,"v":69},{"s":1,"t":47.2,"v":64},{"s":1,"t":49.5,"v":54},{"s":1,"t":52.3,"v":46},{"s":1,"t":55.8,"v":38},{"s":1,"t":58.8,"v":34},{"s":1,"t":61.6,"v":40},{"s":1,"t":64,"v":52},{"s":1,"t":66.3,"v":56},{"s":1,"t":69.8,"v":56},{"s":1,"t":72.1,"v":52},{"s":1,"t":75.6,"v":48},{"s":1,"t":79.1,"v":46},{"s":1,"t":82.6,"v":48},{"s":1,"t":86,"v":48},{"s":1,"t":89.5,"v":46},{"s":1,"t":93,"v":44},{"s":1,"t":96.5,"v":42},{"s":1,"t":100,"v":40}]
},
"vconcat":[
 {"vconcat":[
  {"title":{"text":"A","anchor":"start","frame":"group","dx":-100,"dy":26,"offset":0,"font":"Liberation Sans","fontSize":28,"fontWeight":"bold"},
   "spacing":-3,
   "resolve":{"scale":{"color":"independent","xOffset":"independent"},"legend":{"color":"independent"}},
   "hconcat":[
    {"width":353,"height":226,"view":{"stroke":null},"data":{"name":"re"},"mark":{"type":"bar"},
     "title":{"text":"Main ERG parameters (RE)","anchor":"start","frame":"group","dx":13,"dy":42,"offset":0,"fontSize":17,"fontWeight":"bold"},
     "encoding":{
      "x":{"field":"c","type":"nominal","title":"Case","scale":{"domain":["P1","P2A","P2B","P3","P4","P16"],"range":[-17,353],"paddingInner":0.25,"paddingOuter":0.125},
           "axis":{"domain":true,"domainColor":"#868686","domainWidth":1,"tickBand":"extent","tickColor":"#868686","tickWidth":1,"tickSize":5,"labelAngle":0,"labelFont":"Open Sans","labelFontSize":10.5,"labelPadding":2,"titleFont":"Open Sans","titleFontSize":10.5,"titleFontWeight":"bold","titleColor":"#111","titleY":17,"titleBaseline":"middle"}},
      "xOffset":{"field":"k","type":"nominal","scale":{"domain":["DA0.01","DA10 a-wave","DA10 b-wave","LA30Hz","LA3 b-wave"],"paddingInner":0,"paddingOuter":0}},
      "y":{"field":"v","type":"quantitative","title":"% of lower limit of normal","scale":{"domain":[0,100],"nice":false},
           "axis":{"offset":17,"values":[0,20,40,60,80,100],"domain":true,"domainColor":"#868686","domainWidth":1,"tickColor":"#868686","tickWidth":1,"tickSize":4,"labelFont":"Open Sans","labelFontWeight":"normal","labelFontSize":11,"labelColor":"#595959","labelPadding":3,"minExtent":0,"maxExtent":200,"titleFont":"Open Sans","titleFontSize":14,"titleFontWeight":"bold","titleColor":"#111","titlePadding":10,"titleY":103}},
      "color":{"field":"k","type":"nominal","scale":{"domain":["DA0.01","DA10 a-wave","DA10 b-wave","LA30Hz","LA3 b-wave"],"range":["#4a6dd4","#943634","#8fbf4d","#5c3f97","#5aa7d1"]},"legend":null}
     }},
    {"width":370,"height":226,"view":{"stroke":null},"data":{"name":"le"},"mark":{"type":"bar"},
     "title":{"text":"Main ERG parameters (LE)","anchor":"start","frame":"group","dx":29,"dy":42,"offset":0,"fontSize":17,"fontWeight":"bold"},
     "encoding":{
      "x":{"field":"c","type":"nominal","title":"Case","scale":{"domain":["P1","P2A","P2B","P3","P4","P16"],"paddingInner":0.25,"paddingOuter":0.125},
           "axis":{"domain":true,"domainColor":"#868686","domainWidth":1,"tickBand":"extent","tickColor":"#868686","tickWidth":1,"tickSize":5,"labelAngle":0,"labelFont":"Open Sans","labelFontSize":10.5,"labelPadding":2,"titleFont":"Open Sans","titleFontSize":10.5,"titleFontWeight":"bold","titleColor":"#111","titleY":17,"titleBaseline":"middle"}},
      "xOffset":{"field":"k","type":"nominal","scale":{"domain":["DA0.01","DA10 a-wave","DA10 b-wave","LA30Hz","LA3 b-wave"],"paddingInner":0,"paddingOuter":0}},
      "y":{"field":"v","type":"quantitative","title":"% of lower limit of normal","scale":{"domain":[0,100],"nice":false},
           "axis":{"values":[0,20,40,60,80,100],"domain":true,"domainColor":"#868686","domainWidth":1,"tickColor":"#868686","tickWidth":1,"tickSize":4,"labelFont":"Open Sans","labelFontWeight":"normal","labelFontSize":11,"labelColor":"#595959","labelPadding":3,"minExtent":0,"maxExtent":200,"titleFont":"Open Sans","titleFontSize":14,"titleFontWeight":"bold","titleColor":"#111","titlePadding":10,"titleY":103}},
      "color":{"field":"k","type":"nominal","scale":{"domain":["DA0.01","DA10 a-wave","DA10 b-wave","LA30Hz","LA3 b-wave"],"range":["#4a6dd4","#943634","#8fbf4d","#5c3f97","#5aa7d1"]},
           "legend":{"orient":"none","legendX":276,"legendY":11,"title":null,"symbolType":"square","symbolSize":100,"symbolStrokeWidth":0,"labelFont":"Open Sans","labelFontSize":14,"labelColor":"#333","rowPadding":16.5,"labelOffset":3,"labelLimit":200}}
     }}
   ]},
  {"title":{"text":"B","anchor":"start","frame":"group","dx":-100,"dy":4,"offset":0,"font":"Liberation Sans","fontSize":28,"fontWeight":"bold"},
   "spacing":17,
   "vconcat":[
    {"spacing":7,"hconcat":[
     {"width":144,"height":191,"title":{"text":"DA 0.01"},"data":{"name":"a1"},"mark":"line","encoding":{
      "x":{"field":"t","type":"quantitative","title":null,"scale":{"domain":[0,201],"nice":false,"zero":false},"axis":{"values":[0,100],"labelExpr":"datum.value==0?'0S':datum.value+'mS'"}},
      "y":{"field":"v","type":"quantitative","title":"P1","scale":{"domain":[-76,480],"nice":false,"zero":false},"axis":{"values":[0,100,200,300,400],"labelExpr":"datum.value==0?'0V':datum.value+'µV'","titleAngle":0,"titleAlign":"left","titleBaseline":"middle","titleX":-98,"titleY":76,"titleFont":"Open Sans","titleFontSize":22,"titleFontWeight":"bold","titleColor":"#111"}},
      "detail":{"field":"s","type":"nominal"}}},
     {"width":144,"height":191,"title":{"text":"DA 10.0"},
      "encoding":{
       "x":{"field":"t","type":"quantitative","title":null,"scale":{"domain":[0,201],"nice":false,"zero":false},"axis":{"values":[0,100],"labelExpr":"datum.value==0?'0S':datum.value+'mS'"}},
       "y":{"field":"v","type":"quantitative","title":null,"scale":{"domain":[-40,470],"nice":false,"zero":false},"axis":{"values":[0,100,200,300,400],"labelExpr":"datum.value==0?'0V':datum.value+'µV'"}},
       "detail":{"field":"s","type":"nominal"}},
      "layer":[{"data":{"name":"b1"},"mark":"line"},{"data":{"name":"b1d"},"mark":{"type":"line","strokeDash":[6,5],"strokeWidth":1.5}}]},
     {"width":144,"height":191,"title":{"text":"LA 30Hz"},"data":{"name":"c1"},"mark":"line","encoding":{
      "x":{"field":"t","type":"quantitative","title":null,"scale":{"domain":[0,100],"nice":false,"zero":false},"axis":{"values":[0,50],"labelExpr":"datum.value==0?'0S':datum.value+'mS'"}},
      "y":{"field":"v","type":"quantitative","title":null,"scale":{"domain":[-29,223],"nice":false,"zero":false},"axis":{"values":[0,50,100,150,200],"labelExpr":"datum.value==0?'0V':datum.value+'µV'"}},
      "detail":{"field":"s","type":"nominal"}}},
     {"width":144,"height":191,"title":{"text":"LA 3.0"},"data":{"name":"d1"},"mark":"line","encoding":{
      "x":{"field":"t","type":"quantitative","title":null,"scale":{"domain":[0,100],"nice":false,"zero":false},"axis":{"values":[0,50],"labelExpr":"datum.value==0?'0S':datum.value+'mS'"}},
      "y":{"field":"v","type":"quantitative","title":null,"scale":{"domain":[-22,227],"nice":false,"zero":false},"axis":{"values":[0,50,100,150,200],"labelExpr":"datum.value==0?'0V':datum.value+'µV'"}},
      "detail":{"field":"s","type":"nominal"}}}
    ]},
    {"spacing":7,"hconcat":[
     {"width":144,"height":191,"data":{"name":"a2"},"mark":"line","encoding":{
      "x":{"field":"t","type":"quantitative","title":null,"scale":{"domain":[0,201],"nice":false,"zero":false},"axis":{"values":[0,100],"labelExpr":"datum.value==0?'0S':datum.value+'mS'"}},
      "y":{"field":"v","type":"quantitative","title":"P2","scale":{"domain":[-58,451],"nice":false,"zero":false},"axis":{"values":[0,100,200,300,400],"labelExpr":"datum.value==0?'0V':datum.value+'µV'","titleAngle":0,"titleAlign":"left","titleBaseline":"middle","titleX":-98,"titleY":79,"titleFont":"Open Sans","titleFontSize":22,"titleFontWeight":"bold","titleColor":"#111"}},
      "detail":{"field":"s","type":"nominal"}}},
     {"width":144,"height":191,"data":{"name":"b2"},"mark":"line","encoding":{
      "x":{"field":"t","type":"quantitative","title":null,"scale":{"domain":[0,201],"nice":false,"zero":false},"axis":{"values":[0,100],"labelExpr":"datum.value==0?'0S':datum.value+'mS'"}},
      "y":{"field":"v","type":"quantitative","title":null,"scale":{"domain":[-66,435],"nice":false,"zero":false},"axis":{"values":[0,100,200,300,400],"labelExpr":"datum.value==0?'0V':datum.value+'µV'"}},
      "detail":{"field":"s","type":"nominal"}}},
     {"width":144,"height":191,"data":{"name":"c2"},"mark":"line","encoding":{
      "x":{"field":"t","type":"quantitative","title":null,"scale":{"domain":[0,100],"nice":false,"zero":false},"axis":{"values":[0,50],"labelExpr":"datum.value==0?'0S':datum.value+'mS'"}},
      "y":{"field":"v","type":"quantitative","title":null,"scale":{"domain":[-29,234],"nice":false,"zero":false},"axis":{"values":[0,50,100,150,200],"labelExpr":"datum.value==0?'0V':datum.value+'µV'"}},
      "detail":{"field":"s","type":"nominal"}}},
     {"width":144,"height":191,"data":{"name":"d2"},"mark":"line","encoding":{
      "x":{"field":"t","type":"quantitative","title":null,"scale":{"domain":[0,100],"nice":false,"zero":false},"axis":{"values":[0,50],"labelExpr":"datum.value==0?'0S':datum.value+'mS'"}},
      "y":{"field":"v","type":"quantitative","title":null,"scale":{"domain":[-30,235],"nice":false,"zero":false},"axis":{"values":[0,50,100,150,200],"labelExpr":"datum.value==0?'0V':datum.value+'µV'"}},
      "detail":{"field":"s","type":"nominal"}}}
    ]},
    {"spacing":7,"hconcat":[
     {"width":144,"height":191,"data":{"name":"a3"},"mark":"line","encoding":{
      "x":{"field":"t","type":"quantitative","title":null,"scale":{"domain":[0,201],"nice":false,"zero":false},"axis":{"values":[0,100],"labelExpr":"datum.value==0?'0S':datum.value+'mS'"}},
      "y":{"field":"v","type":"quantitative","title":"P3","scale":{"domain":[-55,448],"nice":false,"zero":false},"axis":{"values":[0,100,200,300,400],"labelExpr":"datum.value==0?'0V':datum.value+'µV'","titleAngle":0,"titleAlign":"left","titleBaseline":"middle","titleX":-98,"titleY":75,"titleFont":"Open Sans","titleFontSize":22,"titleFontWeight":"bold","titleColor":"#111"}},
      "detail":{"field":"s","type":"nominal"}}},
     {"width":144,"height":191,
      "encoding":{
       "x":{"field":"t","type":"quantitative","title":null,"scale":{"domain":[0,201],"nice":false,"zero":false},"axis":{"values":[0,100],"labelExpr":"datum.value==0?'0S':datum.value+'mS'"}},
       "y":{"field":"v","type":"quantitative","title":null,"scale":{"domain":[-40,458],"nice":false,"zero":false},"axis":{"values":[0,100,200,300,400],"labelExpr":"datum.value==0?'0V':datum.value+'µV'"}},
       "detail":{"field":"s","type":"nominal"}},
      "layer":[{"data":{"name":"b3"},"mark":"line"},{"data":{"name":"b3d"},"mark":{"type":"line","strokeDash":[6,5],"strokeWidth":1.5}}]},
     {"width":144,"height":191,"data":{"name":"c3"},"mark":"line","encoding":{
      "x":{"field":"t","type":"quantitative","title":null,"scale":{"domain":[0,100],"nice":false,"zero":false},"axis":{"values":[0,50],"labelExpr":"datum.value==0?'0S':datum.value+'mS'"}},
      "y":{"field":"v","type":"quantitative","title":null,"scale":{"domain":[-32,222],"nice":false,"zero":false},"axis":{"values":[0,50,100,150,200],"labelExpr":"datum.value==0?'0V':datum.value+'µV'"}},
      "detail":{"field":"s","type":"nominal"}}},
     {"width":144,"height":191,"data":{"name":"d3"},"mark":"line","encoding":{
      "x":{"field":"t","type":"quantitative","title":null,"scale":{"domain":[0,100],"nice":false,"zero":false},"axis":{"values":[0,50],"labelExpr":"datum.value==0?'0S':datum.value+'mS'"}},
      "y":{"field":"v","type":"quantitative","title":null,"scale":{"domain":[-28,223],"nice":false,"zero":false},"axis":{"values":[0,50,100,150,200],"labelExpr":"datum.value==0?'0V':datum.value+'µV'"}},
      "detail":{"field":"s","type":"nominal"}}}
    ]},
    {"spacing":7,"hconcat":[
     {"width":144,"height":191,"data":{"name":"a4"},"mark":"line","encoding":{
      "x":{"field":"t","type":"quantitative","title":null,"scale":{"domain":[0,201],"nice":false,"zero":false},"axis":{"values":[0,100],"labelExpr":"datum.value==0?'0S':datum.value+'mS'"}},
      "y":{"field":"v","type":"quantitative","title":"P4","scale":{"domain":[-56,439],"nice":false,"zero":false},"axis":{"values":[0,100,200,300,400],"labelExpr":"datum.value==0?'0V':datum.value+'µV'","titleAngle":0,"titleAlign":"left","titleBaseline":"middle","titleX":-98,"titleY":78,"titleFont":"Open Sans","titleFontSize":22,"titleFontWeight":"bold","titleColor":"#111"}},
      "detail":{"field":"s","type":"nominal"}}},
     {"width":144,"height":191,"data":{"name":"b4"},"mark":"line","encoding":{
      "x":{"field":"t","type":"quantitative","title":null,"scale":{"domain":[0,201],"nice":false,"zero":false},"axis":{"values":[0,100],"labelExpr":"datum.value==0?'0S':datum.value+'mS'"}},
      "y":{"field":"v","type":"quantitative","title":null,"scale":{"domain":[-57,444],"nice":false,"zero":false},"axis":{"values":[0,100,200,300,400],"labelExpr":"datum.value==0?'0V':datum.value+'µV'"}},
      "detail":{"field":"s","type":"nominal"}}},
     {"width":144,"height":191,"data":{"name":"c4"},"mark":"line","encoding":{
      "x":{"field":"t","type":"quantitative","title":null,"scale":{"domain":[0,100],"nice":false,"zero":false},"axis":{"values":[0,50],"labelExpr":"datum.value==0?'0S':datum.value+'mS'"}},
      "y":{"field":"v","type":"quantitative","title":null,"scale":{"domain":[-36,228],"nice":false,"zero":false},"axis":{"values":[0,50,100,150,200],"labelExpr":"datum.value==0?'0V':datum.value+'µV'"}},
      "detail":{"field":"s","type":"nominal"}}},
     {"width":144,"height":191,"data":{"name":"d4"},"mark":"line","encoding":{
      "x":{"field":"t","type":"quantitative","title":null,"scale":{"domain":[0,100],"nice":false,"zero":false},"axis":{"values":[0,50],"labelExpr":"datum.value==0?'0S':datum.value+'mS'"}},
      "y":{"field":"v","type":"quantitative","title":null,"scale":{"domain":[-36,231],"nice":false,"zero":false},"axis":{"values":[0,50,100,150,200],"labelExpr":"datum.value==0?'0V':datum.value+'µV'"}},
      "detail":{"field":"s","type":"nominal"}}}
    ]}
   ]}
 ],"spacing":9},
 {"spacing":7,"hconcat":[
  {"width":144,"height":191,"data":{"name":"a5"},"mark":"line","encoding":{
   "x":{"field":"t","type":"quantitative","title":null,"scale":{"domain":[0,201],"nice":false,"zero":false},"axis":{"values":[0,100],"labelExpr":"datum.value==0?'0S':datum.value+'mS'"}},
   "y":{"field":"v","type":"quantitative","title":"N","scale":{"domain":[-126,778],"nice":false,"zero":false},"axis":{"values":[0,200,400,600],"labelExpr":"datum.value==0?'0V':datum.value+'µV'","titleAngle":0,"titleAlign":"left","titleBaseline":"middle","titleX":-95,"titleY":98,"titleFont":"Liberation Sans","titleFontSize":24,"titleFontWeight":"normal","titleColor":"#111"}},
   "detail":{"field":"s","type":"nominal"}}},
  {"width":144,"height":191,"data":{"name":"b5"},"mark":"line","encoding":{
   "x":{"field":"t","type":"quantitative","title":null,"scale":{"domain":[0,201],"nice":false,"zero":false},"axis":{"values":[0,100],"labelExpr":"datum.value==0?'0S':datum.value+'mS'"}},
   "y":{"field":"v","type":"quantitative","title":null,"scale":{"domain":[-125,780],"nice":false,"zero":false},"axis":{"values":[0,200,400,600],"labelExpr":"datum.value==0?'0V':datum.value+'µV'"}},
   "detail":{"field":"s","type":"nominal"}}},
  {"width":144,"height":191,"data":{"name":"c5"},"mark":"line","encoding":{
   "x":{"field":"t","type":"quantitative","title":null,"scale":{"domain":[0,100],"nice":false,"zero":false},"axis":{"values":[0,50],"labelExpr":"datum.value==0?'0S':datum.value+'mS'"}},
   "y":{"field":"v","type":"quantitative","title":null,"scale":{"domain":[-15,211],"nice":false,"zero":false},"axis":{"values":[0,50,100,150,200],"labelExpr":"datum.value==0?'0V':datum.value+'µV'"}},
   "detail":{"field":"s","type":"nominal"}}},
  {"width":144,"height":191,"data":{"name":"d5"},"mark":"line","encoding":{
   "x":{"field":"t","type":"quantitative","title":null,"scale":{"domain":[0,100],"nice":false,"zero":false},"axis":{"values":[0,50],"labelExpr":"datum.value==0?'0S':datum.value+'mS'"}},
   "y":{"field":"v","type":"quantitative","title":null,"scale":{"domain":[-15,211],"nice":false,"zero":false},"axis":{"values":[0,50,100,150,200],"labelExpr":"datum.value==0?'0V':datum.value+'µV'"}},
   "detail":{"field":"s","type":"nominal"}}}
 ]}
],
"spacing":27
}
